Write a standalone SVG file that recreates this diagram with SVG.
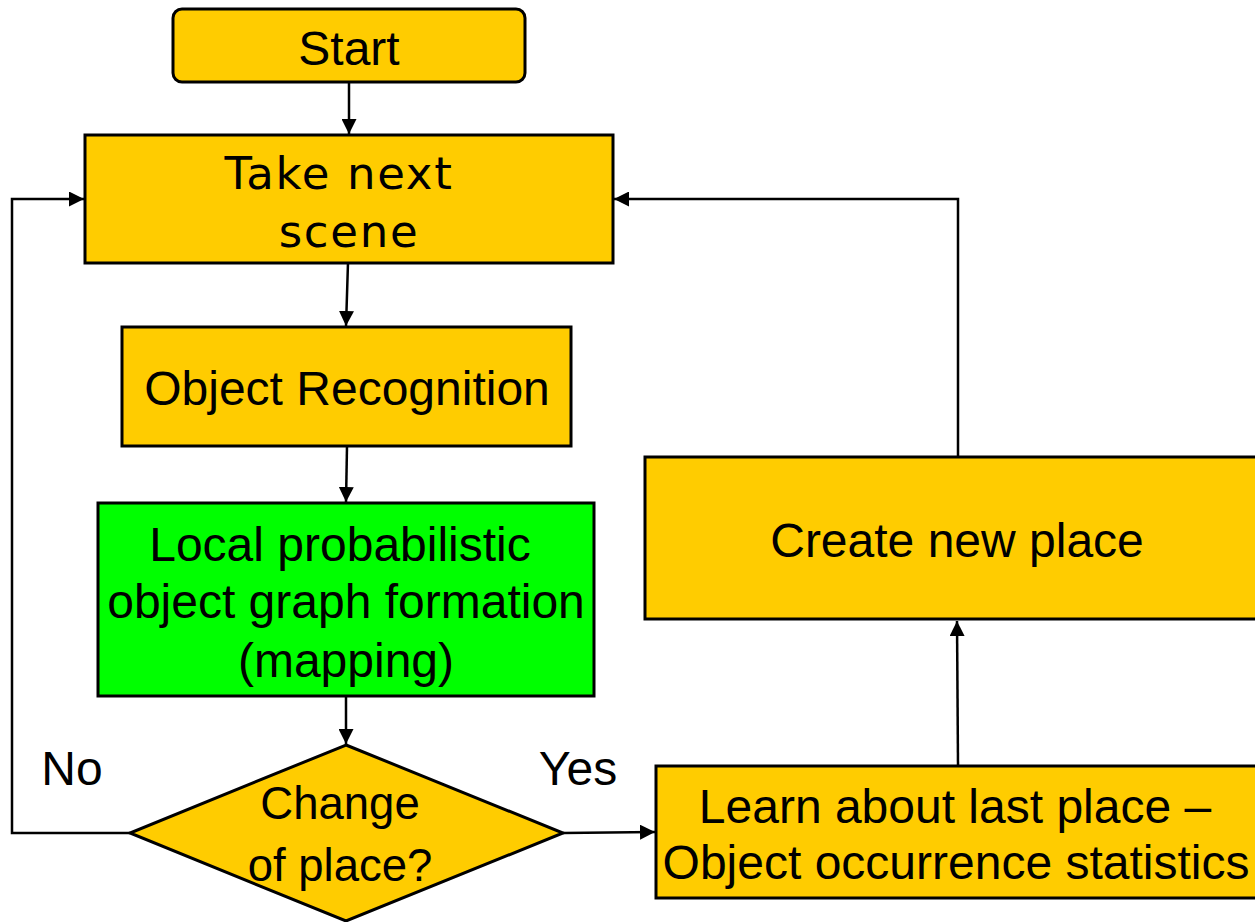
<svg xmlns="http://www.w3.org/2000/svg" width="1255" height="922" viewBox="0 0 1255 922">
<style>
.box{fill:#FFCC00;stroke:#000;stroke-width:3}
.green{fill:#00FF00;stroke:#000;stroke-width:3}
.t{font-family:"Liberation Sans",Arial,sans-serif;font-size:48px;fill:#000;text-anchor:middle}
.d{font-size:45.5px}
.t2{font-family:"DejaVu Sans",Verdana,sans-serif;font-size:45px;fill:#000;text-anchor:middle;letter-spacing:1.7px}
.c{fill:none;stroke:#000;stroke-width:2.5}
</style>
<defs>
<marker id="ah" viewBox="0 0 10 10" refX="10" refY="5" markerWidth="6" markerHeight="6" markerUnits="strokeWidth" orient="auto">
<path d="M0,0 L10,5 L0,10 Z" fill="#000"/>
</marker>
</defs>
<g id="connectors">
<line class="c" x1="349" y1="82" x2="349" y2="134" marker-end="url(#ah)"/>
<line class="c" x1="348" y1="263" x2="346" y2="326" marker-end="url(#ah)"/>
<line class="c" x1="347" y1="446" x2="346" y2="502" marker-end="url(#ah)"/>
<line class="c" x1="346" y1="696" x2="346" y2="744" marker-end="url(#ah)"/>
<polyline class="c" points="130,833 12,833 12,199 84,199" marker-end="url(#ah)"/>
<line class="c" x1="563" y1="833" x2="655" y2="832" marker-end="url(#ah)"/>
<line class="c" x1="958" y1="766" x2="957" y2="621" marker-end="url(#ah)"/>
<polyline class="c" points="958,457 958,199 614,199" marker-end="url(#ah)"/>
<text class="t" x="72" y="785">No</text>
<text class="t" x="578" y="785">Yes</text>
</g>
<g id="start">
<rect class="box" x="173" y="9" width="352" height="73" rx="9"/>
<text class="t" x="349" y="65">Start</text>
</g>
<g id="take">
<rect class="box" x="85" y="135" width="528" height="128"/>
<text class="t2" x="339" y="189">Take next</text>
<text class="t2" x="349" y="247">scene</text>
</g>
<g id="objrec">
<rect class="box" x="122" y="327" width="449" height="119"/>
<text class="t" x="347" y="405">Object Recognition</text>
</g>
<g id="local">
<rect class="green" x="98" y="503" width="496" height="193"/>
<text class="t" x="340" y="561">Local probabilistic</text>
<text class="t" x="346" y="618">object graph formation</text>
<text class="t" x="346" y="677">(mapping)</text>
</g>
<g id="decision">
<polygon class="box" points="346,745 563,833 346,921 130,833"/>
<text class="t d" x="340" y="819">Change</text>
<text class="t d" x="340" y="881">of place?</text>
</g>
<g id="learn">
<rect class="box" x="656" y="766" width="610" height="132"/>
<text class="t" x="955" y="823">Learn about last place –</text>
<text class="t" x="956" y="879">Object occurrence statistics</text>
</g>
<g id="create">
<rect class="box" x="645" y="457" width="620" height="162"/>
<text class="t" x="957" y="557">Create new place</text>
</g>
</svg>
